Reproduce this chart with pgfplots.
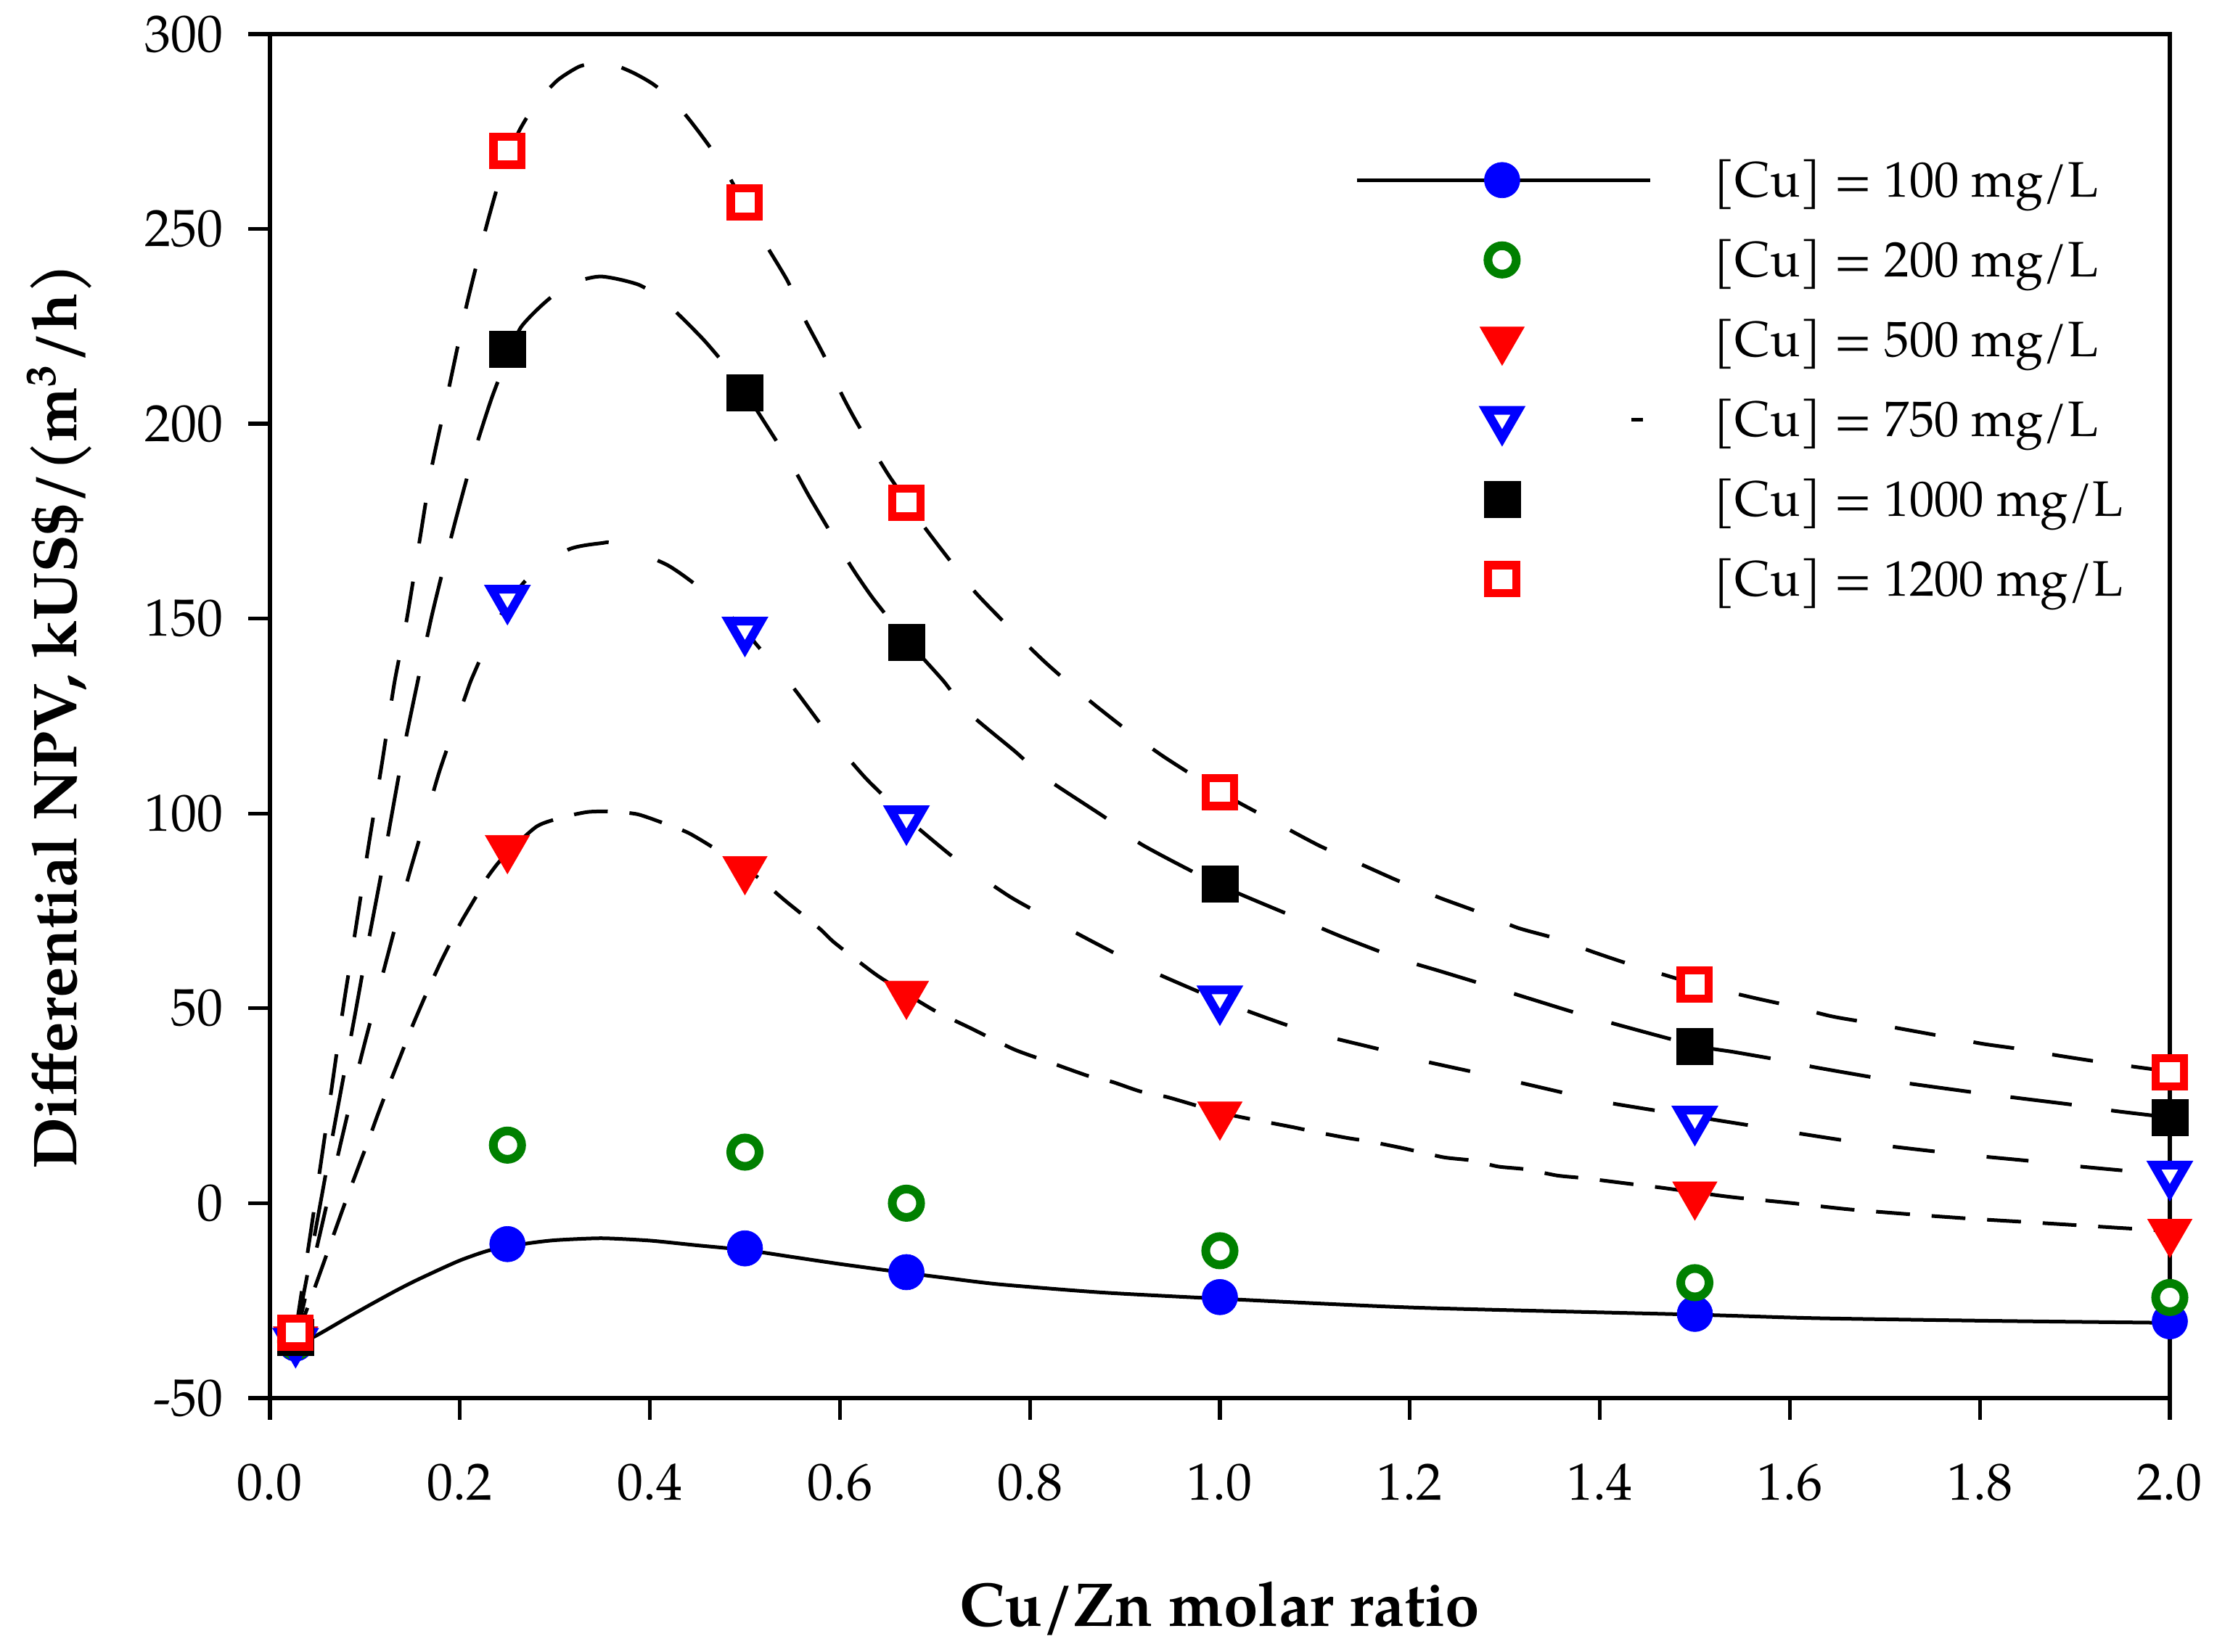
\documentclass[border=0pt]{standalone}
\usepackage{fontspec}
\setmainfont{texgyrepagella}[Extension=.otf, UprightFont=*-regular, BoldFont=*-bold, ItalicFont=*-italic, BoldItalicFont=*-bolditalic]
\usepackage{pgfplots}
\pgfplotsset{compat=1.18}
\definecolor{cublue}{RGB}{0,0,255}
\definecolor{cugreen}{RGB}{0,128,0}
\definecolor{cured}{RGB}{255,0,0}
\pgfdeclareplotmark{dtri}{%
  \pgfpathmoveto{\pgfpointpolar{-90}{\pgfplotmarksize}}%
  \pgfpathlineto{\pgfpointpolar{30}{\pgfplotmarksize}}%
  \pgfpathlineto{\pgfpointpolar{150}{\pgfplotmarksize}}%
  \pgfpathclose
  \pgfusepathqfillstroke}
\newcommand{\legbox}{\path[draw=none,fill=none] (0pt,-8.25pt) rectangle (60.6pt,8.25pt);}
\pgfplotsset{
  legline/.style={legend image code/.code={\legbox\draw[black, solid, line width=0.75pt] (0pt,0pt) -- (60.6pt,0pt);\draw[##1] plot coordinates {(30pt,0pt)};}},
  legmark/.style={legend image code/.code={\legbox\draw[##1] plot coordinates {(30pt,0pt)};}},
  legdash/.style={legend image code/.code={\legbox\draw[black, solid, line width=0.75pt] (56.7pt,0pt) -- (59.1pt,0pt);\draw[##1] plot coordinates {(30pt,0pt)};}},
}
\begin{document}
\begin{tikzpicture}
\useasboundingbox (0,0) rectangle (458.25pt,341.55pt);
\begin{axis}[
  at={(55.8pt,52.5pt)}, anchor=south west,
  width=392.7pt, height=282pt, scale only axis,
  xmin=0, xmax=2, ymin=-50, ymax=300,
  xtick={0,0.2,...,2.0}, ytick={-50,0,50,...,300},
  axis line style={line width=0.8pt},
  tick style={line width=0.8pt, black},
  tick align=outside, major tick length=4.5pt,
  xtick pos=bottom, ytick pos=left,
  minor tick num=0,
  clip=false,
  /pgf/number format/assume math mode=true,
  xticklabel={\pgfmathprintnumber[fixed,fixed zerofill,precision=1]{\tick}},
  yticklabel={\pgfmathprintnumber[fixed,precision=0]{\tick}},
  ticklabel style={font=\fontsize{10.8}{13}\selectfont},
  xticklabel style={inner sep=0pt, anchor=north, yshift=-8.9pt},
  yticklabel style={inner sep=0pt, anchor=east, xshift=-5pt},
  xlabel={Cu/Zn molar ratio},
  ylabel={Differential NPV, kUS\$/(m\textsuperscript{3}/h)},
  label style={font=\bfseries\fontsize{12.8}{15}\selectfont},
  xlabel style={at={(axis description cs:0.5,-0.1543)}, anchor=center},
  ylabel style={at={(axis description cs:-0.1108,0.5)}, anchor=center},
  legend style={at={(axis description cs:0.5707,0.9229)}, anchor=north west,
    draw=none, fill=none, inner sep=0pt, row sep=0pt, column sep=12.75pt,
    font=\fontsize{10.3}{12.5}\selectfont,
    nodes={inner sep=0pt, text height=7pt, text depth=0pt}},
  legend cell align=left,
]
% fitted curves
\addplot[forget plot, black, line width=0.75pt, smooth, tension=0.4] coordinates {
(0.027,-36) (0.047,-34.2) (0.082,-29.3) (0.106,-26) (0.133,-22.4) (0.154,-19.8) (0.184,-16.4) (0.203,-14.4) (0.231,-12.1) (0.269,-10.4) (0.30,-9.5) (0.349,-9) (0.40,-9.6) (0.449,-10.8) (0.5,-12) (0.55,-13.8) (0.6,-15.6) (0.67,-17.9) (0.709,-19.1) (0.767,-20.8) (0.875,-22.9) (1.0,-24.5) (1.206,-26.8) (1.5,-28.6) (1.626,-29.5) (1.815,-30.2) (2.0,-30.7)};
\addplot[forget plot, black, line width=0.75pt, smooth, tension=0.4, dash pattern=on 7pt off 4.5pt] coordinates {
(0.027,-35) (0.037,-28.5) (0.047,-21.8) (0.057,-15) (0.066,-8.8) (0.077,-1.3) (0.085,4) (0.095,10.5) (0.104,16.3) (0.113,22.4) (0.124,29.5) (0.137,37.5) (0.150,45.5) (0.165,54) (0.18,62) (0.192,67.8) (0.202,72.5) (0.221,80.3) (0.230,84) (0.245,88.6) (0.281,96.7) (0.313,99.3) (0.335,100.4) (0.358,100.5) (0.387,99.8) (0.419,97.1) (0.4415,94.9) (0.4715,90.5) (0.513,83.7) (0.524,81.5) (0.543,77.5) (0.578,70.6) (0.594,66.9) (0.630,60.1) (0.647,57.2) (0.699,49.5) (0.736,45.1) (0.783,39.5) (0.817,36.5) (0.862,32.6) (0.887,31.1) (0.916,28.7) (0.945,27.2) (1.0,23.3) (1.028,21.8) (1.077,19.5) (1.102,18.2) (1.135,16.7) (1.156,15.9) (1.193,14.1) (1.235,11.8) (1.264,11) (1.293,9.4) (1.322,8.7) (1.355,7.1) (1.384,6.4) (1.437,4.8) (1.464,4.0) (1.5,2.8) (1.541,1.5) (1.603,0) (1.663,-1.6) (1.74,-3.1) (1.792,-4) (1.846,-4.8) (1.899,-5.6) (1.951,-6.4) (2.0,-7.1)};
\addplot[forget plot, black, line width=0.75pt, smooth, tension=0.4, dash pattern=on 8.7pt off 10.8pt] coordinates {
(0.027,-35) (0.043,-18) (0.053,-7.5) (0.068,8.5) (0.077,18) (0.095,36.5) (0.112,52.5) (0.126,65.5) (0.143,81.3) (0.152,89) (0.169,103) (0.180,112) (0.207,131) (0.214,135.5) (0.241,150) (0.270,160) (0.314,167.7) (0.350,169.4) (0.362,169.2) (0.418,163.8) (0.460,156.4) (0.502,146.5) (0.512,143.4) (0.549,132.9) (0.587,120.6) (0.627,109.1) (0.672,98.5) (0.683,96.1) (0.725,87.7) (0.778,78.8) (0.817,73.5) (0.870,66.6) (0.920,60.4) (1.0,52) (1.073,45.5) (1.119,42.4) (1.168,39.5) (1.214,36.5) (1.272,33.4) (1.313,31.1) (1.375,27.6) (1.413,25.6) (1.5,22.2) (1.562,19.8) (1.607,18) (1.663,15.9) (1.709,14.5) (1.763,13) (1.807,11.9) (1.863,10.6) (1.906,9.4) (1.960,8.2) (2.0,7.5)};
\addplot[forget plot, black, line width=0.75pt, smooth, tension=0.4, dash pattern=on 12.75pt off 8.25pt] coordinates {
(0.027,-34) (0.04,-17.5) (0.055,2.5) (0.068,20) (0.079,34.5) (0.09,49) (0.1,62.5) (0.116,83) (0.127,98) (0.140,115.5) (0.154,132.1) (0.171,151.4) (0.193,173) (0.213,191) (0.233,206.3) (0.250,217) (0.264,224.7) (0.287,230.6) (0.314,235.7) (0.348,237.8) (0.389,235.6) (0.419,230.6) (0.456,221.7) (0.485,213.4) (0.502,208) (0.512,203.7) (0.550,189.1) (0.569,180.8) (0.610,164.1) (0.633,155.8) (0.654,149.3) (0.672,144) (0.709,134) (0.734,126.2) (0.784,116) (0.817,109) (0.884,98.2) (0.918,92) (1.0,81.6) (1.090,72.3) (1.131,68.1) (1.189,62.7) (1.231,59.6) (1.293,55) (1.334,51.9) (1.392,47.6) (1.5,40.5) (1.541,38.8) (1.595,36.5) (1.626,34.9) (1.699,31.8) (1.723,30.8) (1.801,28.2) (1.843,26.9) (1.903,25.1) (1.941,23.7) (2.0,22)};
\addplot[forget plot, black, line width=0.75pt, smooth, tension=0.4, dash pattern=on 8.5pt off 8pt] coordinates {
(0.027,-33) (0.045,-4) (0.06,21) (0.077,50) (0.09,70) (0.104,92) (0.118,113) (0.131,133.5) (0.144,149.8) (0.158,170.7) (0.170,188.5) (0.189,209.9) (0.207,230.4) (0.227,249.9) (0.244,264.4) (0.262,275) (0.281,282.5) (0.303,288.2) (0.325,291.6) (0.342,292.6) (0.357,292.6) (0.383,290) (0.407,286.5) (0.438,279.1) (0.475,266.9) (0.502,255) (0.517,248) (0.545,236.6) (0.562,227.3) (0.583,217.6) (0.602,207.5) (0.619,199.8) (0.650,187.3) (0.672,179.5) (0.685,174.8) (0.707,167.7) (0.742,156.9) (0.779,147.6) (0.817,138.6) (0.860,129.5) (0.902,121.4) (0.942,114.4) (1.0,105.5) (1.055,98.2) (1.105,91.7) (1.152,86.6) (1.187,82.8) (1.231,78.4) (1.269,75) (1.313,70.7) (1.351,68.1) (1.396,64.2) (1.433,61.2) (1.5,56.3) (1.562,52.7) (1.599,50.7) (1.643,48) (1.678,46.5) (1.723,44.5) (1.759,42.9) (1.803,40.9) (1.841,39.6) (1.882,37.9) (1.922,36.4) (1.960,35.1) (2.0,33.8)};
% markers
\addplot[only marks, mark=*, mark size=3.67pt, mark options={solid, draw=cublue, fill=cublue, line width=0.1pt}, legline]
 coordinates {(0.027,-36) (0.25,-10.5) (0.5,-11.6) (0.67,-17.7) (1.0,-24.1) (1.5,-28.4) (2.0,-30.3)};
\addlegendentry{{[}Cu{]} = 100 mg/L}
\addplot[only marks, mark=*, mark size=2.93pt, mark options={solid, draw=cugreen, fill=white, line width=1.8pt}, legmark]
 coordinates {(0.027,-35.5) (0.25,14.9) (0.5,13.1) (0.67,0) (1.0,-12.2) (1.5,-20.4) (2.0,-24.2)};
\addlegendentry{{[}Cu{]} = 200 mg/L}
\addplot[only marks, mark=dtri, mark size=5.3pt, mark options={solid, draw=cured, fill=cured, line width=0.1pt}, legmark]
 coordinates {(0.027,-35) (0.25,91.1) (0.5,85.7) (0.67,53.7) (1.0,22.7) (1.5,2.2) (2.0,-7.4)};
\addlegendentry{{[}Cu{]} = 500 mg/L}
\addplot[only marks, mark=dtri, mark size=3.8pt, mark options={solid, draw=cublue, fill=white, line width=1.8pt, miter limit=10}, legdash]
 coordinates {(0.027,-35.5) (0.25,155.2) (0.5,147) (0.67,98.6) (1.0,52.4) (1.5,21.5) (2.0,7.4)};
\addlegendentry{{[}Cu{]} = 750 mg/L}
\addplot[only marks, mark=square*, mark size=3.75pt, mark options={solid, draw=black, fill=black, line width=0.1pt}, legmark]
 coordinates {(0.027,-34.5) (0.25,219.1) (0.5,208) (0.67,143.9) (1.0,82) (1.5,40.3) (2.0,22.0)};
\addlegendentry{{[}Cu{]} = 1000 mg/L}
\addplot[only marks, mark=square*, mark size=2.9pt, mark options={solid, draw=cured, fill=white, line width=1.7pt}, legmark]
 coordinates {(0.027,-33.2) (0.25,270.1) (0.5,256.8) (0.67,179.8) (1.0,105.5) (1.5,56.1) (2.0,33.6)};
\addlegendentry{{[}Cu{]} = 1200 mg/L}
\end{axis}
\end{tikzpicture}
\end{document}
